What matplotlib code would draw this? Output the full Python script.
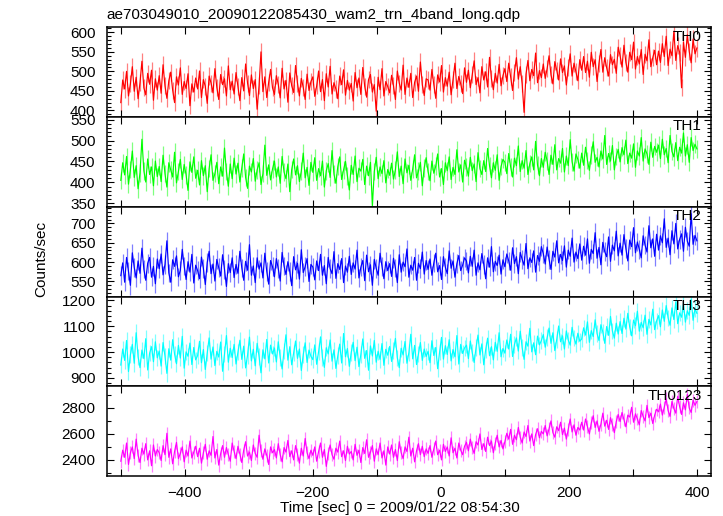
import numpy as np
import matplotlib
matplotlib.use("Agg")
import matplotlib.pyplot as plt
from matplotlib.ticker import MultipleLocator, FuncFormatter

plt.rcParams['font.family'] = ['Liberation Sans', 'DejaVu Sans']
plt.rcParams['font.size'] = 11

title = "ae703049010_20090122085430_wam2_trn_4band_long.qdp"
xlabel = "Time [sec] 0 = 2009/01/22 08:54:30"
ylabel = "Counts/sec"

t_start, t_stop, t_bin = -500, 400, 3
time = np.arange(t_start, t_stop + 1, t_bin)

names = ["TH0", "TH1", "TH2", "TH3", "TH0123"]
colors = ["#ff0000", "#00ff00", "#0000ff", "#00ffff", "#ff00ff"]
errors = [22, 21, 24, 32, 50]

th0 = [420, 478, 455, 500, 437, 468, 512, 449, 485, 430, 471, 526, 458, 440, 495, 467, 503, 426, 481, 452,
       489, 444, 517, 463, 431, 476, 498, 452, 420, 486, 465, 509, 441, 474, 456, 494, 412, 468, 447, 483,
       455, 501, 433, 479, 462, 418, 488, 470, 445, 507, 459, 428, 492, 466, 481, 437, 514, 453, 475, 442,
       497, 461, 425, 484, 450, 519, 470, 438, 491, 456, 479, 403, 464, 550, 448, 486, 433, 472, 505, 458,
       441, 489, 467, 432, 508, 455, 477, 421, 496, 463, 446, 515, 470, 437, 482, 459, 428, 493, 451, 474,
       486, 436, 463, 501, 448, 479, 425, 494, 460, 513, 442, 471, 455, 430, 488, 466, 504, 439, 477, 452,
       469, 424, 497, 458, 483, 441, 510, 462, 434, 479, 492, 447, 466, 398, 485, 453, 507, 437, 474, 461,
       445, 490, 463, 428, 501, 470, 452, 516, 441, 483, 459, 495, 433, 472, 488, 449, 524, 466, 438, 481,
       478, 452, 505, 466, 431, 491, 473, 515, 447, 484, 462, 498, 440, 479, 521, 456, 487, 468, 443, 509,
       472, 503, 458, 491, 527, 466, 484, 445, 512, 478, 499, 460, 536, 481, 453, 495, 470, 518, 463, 489,
       507, 474, 521, 486, 451, 498, 535, 480, 512, 468, 395, 493, 528, 476, 505, 489, 547, 471, 502, 484,
       519, 482, 507, 540, 491, 468, 525, 503, 478, 532, 497, 514, 465, 509, 545, 488, 521, 499, 476, 530,
       503, 538, 497, 526, 485, 549, 512, 530, 474, 521, 556, 498, 535, 509, 488, 543, 517, 531, 495, 562,
       540, 511, 567, 523, 498, 549, 530, 575, 506, 538, 519, 556, 492, 544, 527, 581, 512, 535, 554, 517,
       552, 523, 571, 538, 590, 515, 557, 540, 603, 528, 566, 549, 458, 575, 536, 594, 551, 522, 583, 545,
       560]

th1 = [405, 447, 418, 462, 396, 431, 475, 412, 440, 385, 423, 503, 428, 401, 456, 419, 437, 392, 451, 414,
       438, 402, 465, 421, 389, 447, 430, 413, 472, 399, 426, 455, 407, 443, 418, 381, 449, 424, 461, 410,
       429, 394, 452, 416, 440, 378, 433, 466, 405, 421, 448, 397, 437, 415, 482, 426, 391, 444, 409, 458,
       420, 446, 401, 434, 468, 412, 386, 439, 425, 457, 403, 430, 447, 395, 421, 489, 417, 442, 406, 432,
       451, 413, 437, 398, 462, 425, 409, 444, 378, 431, 456, 418, 440, 402, 427, 470, 411, 436, 393, 448,
       424, 459, 405, 433, 416, 451, 389, 428, 445, 412, 476, 420, 398, 438, 461, 407, 430, 450, 415, 382,
       441, 419, 463, 402, 434, 427, 455, 395, 439, 416, 448, 345, 426, 460, 409, 437, 421, 452, 399, 431,
       417, 446, 408, 430, 473, 414, 439, 397, 456, 423, 441, 405, 432, 466, 411, 427, 448, 392, 435, 459,
       426, 404, 451, 422, 439, 468, 413, 433, 395, 447, 428, 461, 407, 436, 419, 478, 425, 442, 401, 453,
       437, 415, 460, 428, 444, 402, 471, 433, 419, 452, 426, 481, 440, 411, 447, 429, 466, 405, 438, 455,
       448, 421, 469, 437, 413, 458, 440, 487, 426, 452, 434, 476, 419, 445, 461, 430, 498, 441, 416, 457,
       436, 472, 451, 419, 465, 443, 490, 430, 457, 446, 481, 425, 463, 440, 502, 449, 427, 468, 455, 434,
       470, 441, 484, 452, 429, 466, 497, 448, 460, 437, 475, 456, 512, 443, 469, 451, 488, 430, 462, 479,
       449, 483, 466, 501, 445, 470, 458, 492, 436, 475, 463, 507, 451, 480, 468, 443, 496, 460, 486, 472,
       489, 457, 503, 466, 481, 447, 512, 474, 461, 495, 452, 484, 470, 518, 463, 490, 448, 507, 476, 491,
       480]

th2 = [565, 598, 548, 612, 577, 540, 624, 586, 559, 603, 571, 636, 582, 553, 597, 612, 561, 589, 544, 608,
       583, 621, 567, 594, 655, 572, 548, 606, 589, 616, 562, 579, 633, 590, 555, 601, 574, 620, 546, 592,
       578, 557, 613, 584, 542, 599, 628, 570, 595, 551, 607, 586, 564, 619, 581, 537, 596, 573, 611, 560,
       594, 571, 628, 585, 553, 602, 579, 645, 566, 590, 547, 611, 582, 598, 559, 623, 576, 543, 604, 588,
       562, 609, 583, 551, 625, 590, 568, 601, 575, 539, 614, 580, 597, 556, 632, 573, 588, 609, 550, 594,
       587, 554, 603, 578, 620, 566, 591, 544, 612, 583, 570, 627, 558, 596, 581, 609, 547, 590, 574, 615,
       568, 598, 582, 631, 559, 587, 604, 552, 618, 575, 593, 540, 607, 584, 566, 623, 589, 557, 601, 578,
       596, 563, 610, 585, 547, 619, 574, 600, 588, 634, 561, 592, 579, 612, 553, 597, 583, 626, 569, 604,
       581, 608, 566, 598, 623, 575, 591, 555, 614, 587, 570, 629, 584, 603, 561, 596, 617, 578, 592, 611,
       603, 572, 615, 589, 631, 566, 598, 580, 622, 594, 557, 611, 587, 640, 575, 602, 591, 618, 569, 606,
       588, 621, 603, 579, 637, 596, 614, 570, 625, 607, 592, 648, 583, 611, 599, 629, 574, 617, 602, 640,
       622, 595, 639, 607, 581, 628, 613, 655, 598, 620, 604, 642, 587, 631, 615, 662, 600, 626, 609, 647,
       605, 641, 618, 660, 597, 633, 622, 676, 610, 638, 593, 651, 627, 614, 665, 602, 644, 629, 680, 616,
       649, 618, 671, 635, 603, 657, 640, 689, 624, 652, 633, 611, 668, 644, 626, 694, 637, 660, 615, 672,
       631, 668, 650, 712, 638, 662, 619, 681, 647, 700, 634, 659, 673, 628, 690, 654, 641, 725, 646, 669,
       655]

th3 = [950, 1012, 968, 1045, 925, 990, 1030, 957, 1075, 982, 940, 1008, 975, 1052, 931, 996, 1021, 963, 1040, 978,
       1004, 946, 1037, 985, 918, 1013, 969, 1048, 992, 955, 1026, 977, 1061, 938, 1001, 984, 1035, 952, 1018, 970,
       987, 1042, 959, 1010, 933, 996, 1055, 973, 1020, 948, 1003, 981, 1039, 926, 992, 1064, 961, 1015, 979, 1030,
       954, 1001, 1046, 972, 1023, 939, 988, 1058, 966, 1011, 947, 1034, 983, 920, 1009, 974, 1049, 958, 1027, 993,
       1016, 962, 1040, 980, 935, 1005, 1067, 969, 1021, 951, 997, 1043, 976, 1012, 929, 990, 1036, 960, 1008, 984,
       971, 1028, 953, 1002, 1059, 979, 941, 1017, 993, 1047, 965, 1009, 937, 986, 1031, 958, 1072, 982, 1014, 945,
       999, 1038, 967, 1019, 944, 991, 1051, 976, 1006, 930, 1024, 985, 1045, 961, 1003, 972, 1033, 949, 1011, 988,
       1022, 964, 1007, 1053, 978, 940, 1015, 989, 1041, 957, 998, 1069, 974, 1026, 952, 993, 1037, 968, 1012, 983,
       1003, 959, 1044, 987, 1018, 936, 1000, 1057, 973, 1025, 991, 1048, 966, 1010, 982, 1064, 954, 1030, 995, 1016,
       1027, 975, 1043, 998, 960, 1018, 1066, 989, 1032, 951, 1009, 1054, 986, 1021, 970, 1038, 1003, 1075, 982, 1014,
       996, 1047, 1012, 1069, 983, 1030, 1055, 1004, 1081, 1017, 972, 1040, 1023, 1092, 1001, 1036, 990, 1062, 1028, 1045,
       1068, 1019, 1057, 1093, 1034, 1075, 1006, 1049, 1101, 1040, 1063, 1012, 1082, 1047, 1027, 1096, 1055, 1031, 1073, 1042,
       1051, 1094, 1066, 1117, 1038, 1083, 1060, 1125, 1072, 1045, 1106, 1078, 1034, 1099, 1065, 1138, 1081, 1054, 1112, 1070,
       1118, 1072, 1131, 1089, 1150, 1097, 1063, 1124, 1102, 1158, 1081, 1115, 1094, 1143, 1069, 1127, 1105, 1166, 1087, 1121,
       1141, 1098, 1163, 1119, 1180, 1132, 1104, 1171, 1126, 1195, 1110, 1152, 1135, 1188, 1116, 1160, 1142, 1205, 1123, 1168,
       1150]

th0123 = [2390, 2475, 2420, 2530, 2365, 2455, 2500, 2410, 2560, 2435, 2380, 2490, 2445, 2525, 2400, 2470, 2355, 2515, 2430, 2480,
          2455, 2395, 2510, 2440, 2605, 2420, 2485, 2370, 2465, 2535, 2410, 2450, 2500, 2385, 2475, 2430, 2545, 2415, 2460, 2505,
          2425, 2490, 2375, 2455, 2520, 2405, 2470, 2435, 2580, 2415, 2480, 2360, 2450, 2510, 2420, 2495, 2440, 2390, 2530, 2465,
          2410, 2505, 2445, 2380, 2475, 2540, 2430, 2460, 2395, 2515, 2450, 2420, 2590, 2470, 2405, 2485, 2435, 2365, 2500, 2455,
          2480, 2415, 2525, 2440, 2385, 2495, 2460, 2550, 2425, 2470, 2400, 2510, 2445, 2375, 2490, 2430, 2565, 2455, 2410, 2475,
          2435, 2500, 2390, 2465, 2530, 2420, 2480, 2350, 2450, 2515, 2440, 2405, 2490, 2460, 2545, 2425, 2470, 2395, 2505, 2445,
          2465, 2400, 2520, 2435, 2475, 2380, 2495, 2450, 2555, 2420, 2460, 2510, 2390, 2485, 2440, 2530, 2415, 2470, 2360, 2500,
          2445, 2515, 2420, 2480, 2395, 2540, 2455, 2410, 2500, 2465, 2575, 2430, 2490, 2385, 2470, 2525, 2440, 2505, 2425, 2485,
          2450, 2510, 2420, 2485, 2545, 2440, 2475, 2400, 2520, 2465, 2500, 2430, 2570, 2455, 2490, 2415, 2530, 2475, 2440, 2505,
          2535, 2470, 2560, 2495, 2450, 2540, 2515, 2600, 2480, 2525, 2465, 2575, 2510, 2545, 2455, 2530, 2590, 2500, 2550, 2485,
          2540, 2605, 2560, 2635, 2520, 2590, 2555, 2650, 2575, 2530, 2615, 2580, 2665, 2545, 2600, 2510, 2595, 2640, 2570, 2620,
          2600, 2665, 2585, 2640, 2700, 2610, 2575, 2655, 2625, 2690, 2595, 2645, 2560, 2635, 2715, 2615, 2670, 2590, 2650, 2630,
          2690, 2630, 2715, 2655, 2600, 2685, 2740, 2650, 2700, 2620, 2675, 2760, 2660, 2705, 2635, 2725, 2670, 2610, 2695, 2750,
          2695, 2765, 2710, 2655, 2745, 2730, 2805, 2690, 2755, 2715, 2670, 2780, 2735, 2700, 2820, 2725, 2760, 2680, 2745, 2790,
          2770, 2830, 2745, 2805, 2870, 2780, 2735, 2850, 2795, 2760, 2890, 2810, 2750, 2840, 2785, 2905, 2800, 2765, 2860, 2820,
          2850]

series = [th0, th1, th2, th3, th0123]
for s in series:
    if len(s) != len(time):
        raise ValueError(f"length {len(s)} != {len(time)}")

ylims = [(383, 613), (342, 556), (511, 743), (868, 1215), (2276, 2967)]
ymajor = [50, 50, 50, 100, 200]
yminor = [10, 10, 10, 20, 100]

fig = plt.figure(figsize=(7.23, 5.16), dpi=100)
axes = fig.subplots(5, 1, sharex=True, gridspec_kw=dict(hspace=0))
fig.subplots_adjust(left=0.1476, right=0.9834, top=0.9471, bottom=0.0775)

def xfmt(v, p):
    iv = int(round(v))
    if iv % 200 != 0:
        return ''
    return ('\u2212' + str(-iv)) if iv < 0 else str(iv)

for ax, y, name, col, err, yl, ma, mi in zip(axes, series, names, colors, errors,
                                             ylims, ymajor, yminor):
    ya = np.array(y, dtype=float)
    ax.errorbar(time, ya, yerr=err, fmt='none', ecolor=col, alpha=0.5,
                elinewidth=0.9, capsize=0, zorder=1)
    ax.plot(time, ya, color=col, lw=0.85, zorder=2)
    ax.set_ylim(*yl)
    ax.set_xlim(-522, 422)
    ax.yaxis.set_major_locator(MultipleLocator(ma))
    ax.yaxis.set_minor_locator(MultipleLocator(mi))
    ax.xaxis.set_major_locator(MultipleLocator(100))
    ax.xaxis.set_major_formatter(FuncFormatter(xfmt))
    ax.tick_params(axis='both', which='both', direction='in',
                   top=True, right=True, width=0.8, labelsize=11)
    ax.tick_params(axis='both', which='major', length=5)
    ax.tick_params(axis='both', which='minor', length=3)
    ax.tick_params(axis='y', pad=8)
    ax.tick_params(axis='x', pad=7)
    for sp in ax.spines.values():
        sp.set_linewidth(1.1)
    ax.text(0.985, 0.975, name, transform=ax.transAxes, ha='right', va='top',
            fontsize=11, color='black', zorder=5)

fig.text(0.1476, 1 - 15 / 516, title, ha='left', va='center', fontsize=11)
fig.text(400 / 723, 1 - 508 / 516, xlabel, ha='center', va='center', fontsize=11)
fig.text(41 / 723, 1 - 259 / 516, ylabel, ha='center', va='center',
         rotation=90, fontsize=11)

fig.savefig("out.png", dpi=100)
